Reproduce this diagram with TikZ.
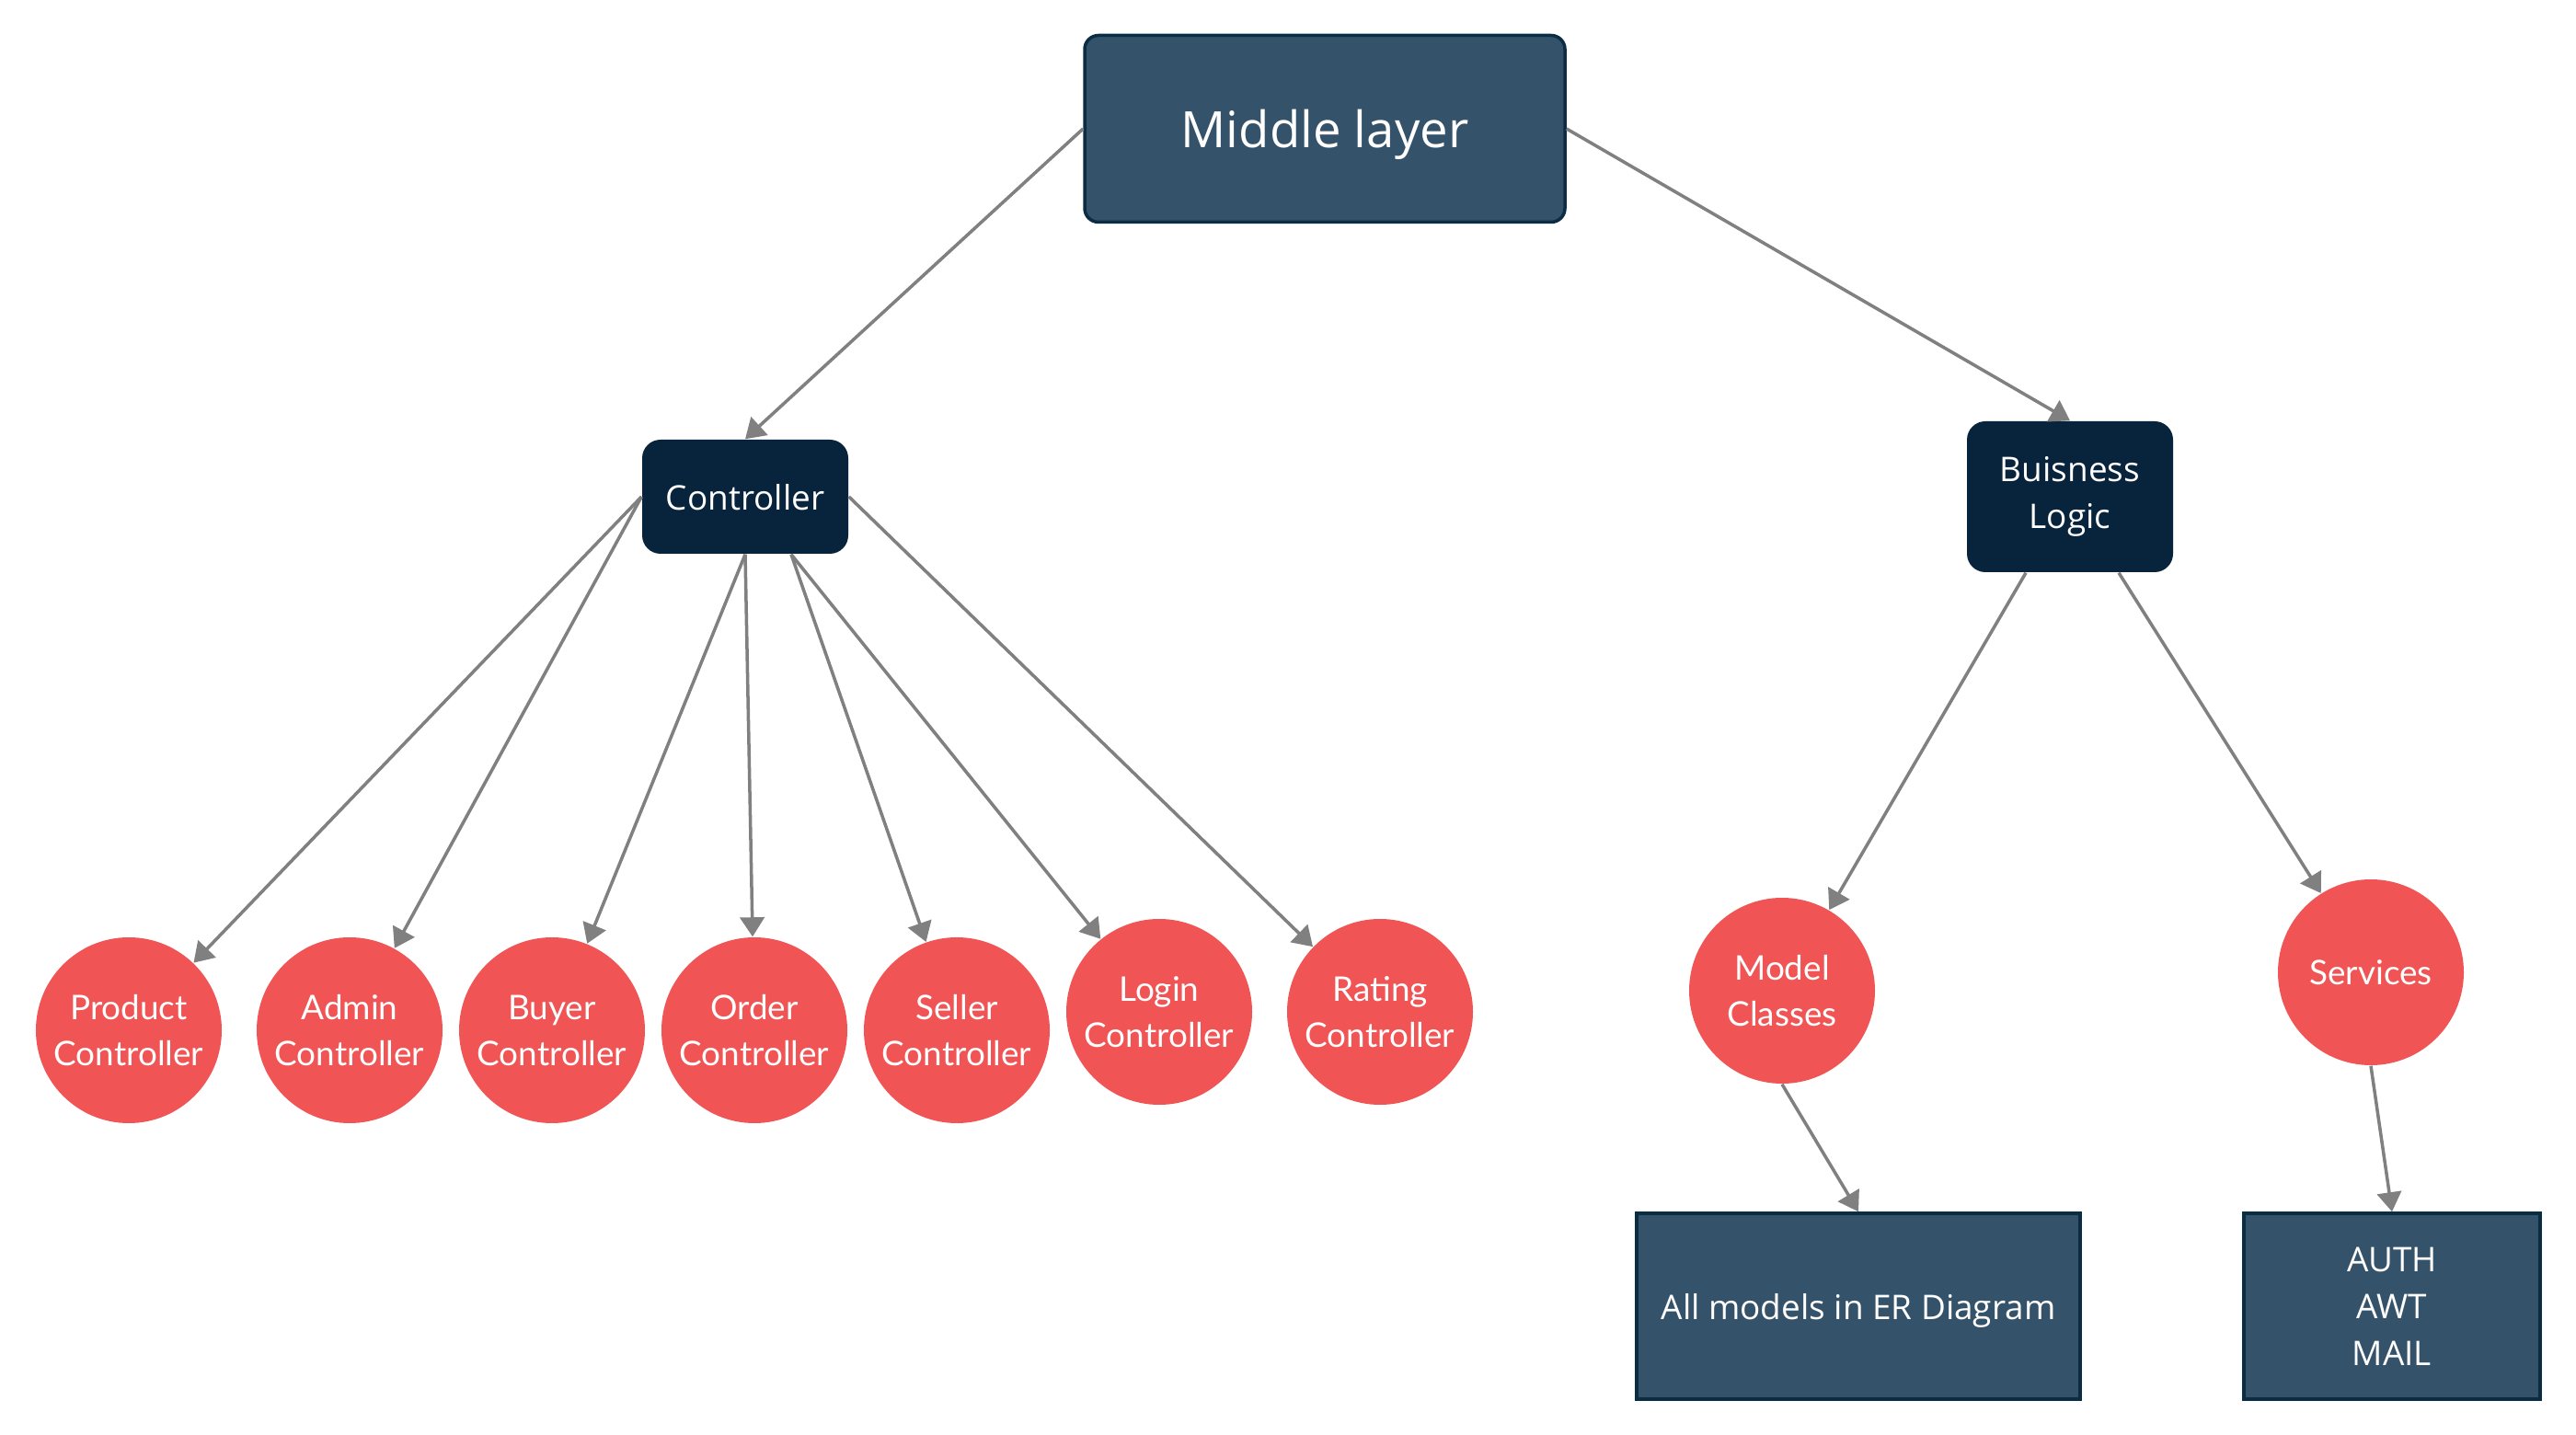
\documentclass[tikz,border=0pt]{standalone}
\usepackage{fontspec}
\setmainfont{Open Sans}
\newfontfamily\latofont{Lato}
\usetikzlibrary{arrows.meta}
\definecolor{boxfill}{HTML}{34536A}
\definecolor{boxline}{HTML}{0B2D44}
\definecolor{darkfill}{HTML}{08243C}
\definecolor{redfill}{HTML}{F05454}
\definecolor{linegray}{HTML}{808080}
\begin{document}
\begin{tikzpicture}[
 box/.style={draw=boxline,line width=1pt,fill=boxfill,text=white,align=center,font=\fontsize{10.5}{14.5}\selectfont},
 dark/.style={fill=darkfill,rounded corners=0.2cm,text=white,align=center,minimum width=2.24cm,font=\fontsize{10.5}{14.5}\selectfont},
 ball/.style={circle,fill=redfill,text=white,minimum size=2.02cm,inner sep=0pt,align=center,font=\latofont\fontsize{10.5}{14.2}\selectfont},
 link/.style={draw=linegray,line width=1pt,-{Triangle[length=6pt,width=7.5pt]}}]
 \useasboundingbox (0,0) rectangle (28,-15.6);
 \node[box,rounded corners=0.15cm,minimum width=5.22cm,minimum height=2.03cm,text depth=0pt,font=\fontsize{15.5}{18}\selectfont] (mid) at (14.40,-1.40) {Middle layer};
 \node[dark,minimum height=1.24cm,text depth=0pt] (ctrl) at (8.10,-5.40) {Controller};
 \node[dark,minimum height=1.64cm] (biz) at (22.50,-5.40) {Buisness\\Logic};
 \foreach \n/\x/\y/\t in {prod/1.40/-11.20/Product,adm/3.80/-11.20/Admin,buy/6.00/-11.20/Buyer,ord/8.20/-11.20/Order,sel/10.40/-11.20/Seller,log/12.60/-11.00/Login,rat/15.00/-11.00/Rating}
 \node[ball] (\n) at (\x,\y) {\t\\Controller};
 \node[ball] (model) at (19.37,-10.77) {Model\\Classes};
 \node[ball,text depth=0pt] (serv) at (25.77,-10.57) {Services};
 \node[box,minimum width=4.82cm,minimum height=2.02cm,text depth=0pt] (er) at (20.20,-14.20) {All models in ER Diagram};
 \node[box,minimum width=3.22cm,minimum height=2.02cm] (auth) at (26.00,-14.20) {AUTH\\AWT\\MAIL};
 \coordinate (ctrlout) at ([xshift=0.5cm]ctrl.south);
 \coordinate (bizl) at ([xshift=-0.48cm]biz.south);
 \coordinate (bizr) at ([xshift=0.53cm]biz.south);
 \draw[link] (mid.west) -- (ctrl.north);
 \draw[link] (mid.east) -- (biz.north);
 \foreach \s/\e in {ctrl.west/prod,ctrl.west/adm,ctrl.south/buy,ctrl.south/ord,ctrlout/sel,ctrlout/log,ctrl.east/rat,bizl/model,bizr/serv,model.south/er.north,serv.south/auth.north}
 \draw[link] (\s) -- (\e);
\end{tikzpicture}
\end{document}
